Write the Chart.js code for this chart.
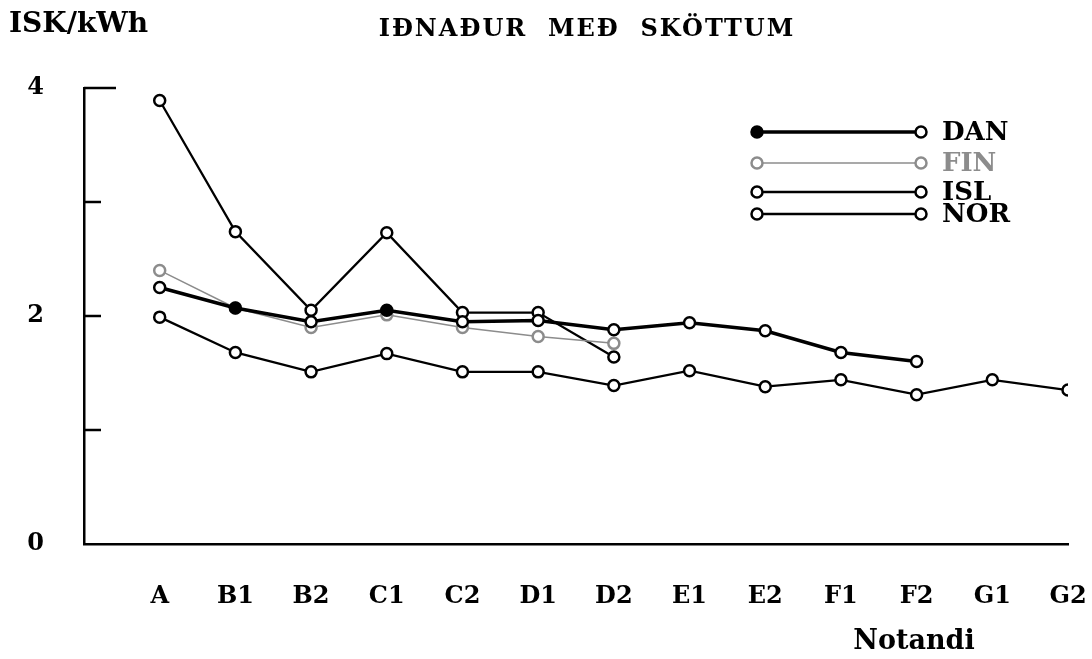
<!DOCTYPE html>
<html>
<head>
<meta charset="utf-8">
<script src="https://cdn.jsdelivr.net/npm/chart.js@4"></script>
<style>
  html, body { margin: 0; padding: 0; background: #fff; }
  #wrap { width: 1092px; height: 659px; }
</style>
</head>
<body>
<div id="wrap"><canvas id="chart"></canvas></div>
<script>
(function() {
    'use strict';

    var categories = ['A', 'B1', 'B2', 'C1', 'C2', 'D1', 'D2', 'E1', 'E2', 'F1', 'F2', 'G1', 'G2'];
    var seriesNames = ['DAN', 'FIN', 'ISL', 'NOR'];
    var danValues = [2.25, 2.07, 1.95, 2.05, 1.95, 1.96, 1.88, 1.94, 1.87, 1.68, 1.60];
    var finValues = [2.40, 2.07, 1.90, 2.01, 1.90, 1.82, 1.76];
    var islValues = [3.89, 2.74, 2.05, 2.73, 2.03, 2.03, 1.64];
    var norValues = [1.99, 1.68, 1.51, 1.67, 1.51, 1.51, 1.39, 1.52, 1.38, 1.44, 1.31, 1.44, 1.35];
    var yTicks = [0, 1, 2, 3, 4];
    var yLabelled = [0, 2, 4];

    var FONT = '"DejaVu Serif", serif';

    function toPoints(values) {
        return values.map(function(v, i) { return { x: i, y: v }; });
    }

    // DAN has filled markers at B1 and C1
    var danFill = danValues.map(function(v, i) { return (i === 1 || i === 3) ? '#000' : '#fff'; });

    var styles = [
        { color: '#000', width: 3.5, fill: danFill, legendFill: ['#000', '#fff'] },
        { color: '#8c8c8c', width: 1.5, fill: '#fff', legendFill: ['#fff', '#fff'] },
        { color: '#000', width: 2.3, fill: '#fff', legendFill: ['#fff', '#fff'] },
        { color: '#000', width: 2.3, fill: '#fff', legendFill: ['#fff', '#fff'] }
    ];
    var allValues = [danValues, finValues, islValues, norValues];

    var datasets = allValues.map(function(vals, i) {
        return {
            label: seriesNames[i],
            data: toPoints(vals),
            borderColor: styles[i].color,
            borderWidth: styles[i].width,
            pointRadius: 5.5,
            pointBorderWidth: 2.5,
            pointBorderColor: styles[i].color,
            pointBackgroundColor: styles[i].fill,
            tension: 0,
            fill: false
        };
    });

    var decorations = {
        id: 'decorations',
        afterDraw: function(chart) {
            var ctx = chart.ctx;
            var y = chart.scales.y;
            var area = chart.chartArea;
            ctx.save();
            // inward ticks on the y axis
            ctx.strokeStyle = '#000';
            ctx.lineWidth = 2.5;
            yTicks.forEach(function(t) {
                if (t === 0) return;
                var py = y.getPixelForValue(t);
                var len = (t === 4) ? 32 : 17;
                ctx.beginPath();
                ctx.moveTo(area.left, py);
                ctx.lineTo(area.left + len, py);
                ctx.stroke();
            });

            // titles
            ctx.fillStyle = '#000';
            ctx.textBaseline = 'middle';
            ctx.textAlign = 'left';
            ctx.font = 'bold 28px ' + FONT;
            ctx.fillText('ISK/kWh', 9, 25);
            ctx.font = 'bold 24px ' + FONT;
            ctx.letterSpacing = '2px';
            ctx.textAlign = 'center';
            ctx.fillText('IÐNAÐUR  MEÐ  SKÖTTUM', 587, 30);
            ctx.letterSpacing = '0px';
            ctx.font = 'bold 27px ' + FONT;
            ctx.fillText('Notandi', 914, 642);

            // legend
            var rows = [132, 163, 192, 214];
            var x0 = 757, x1 = 921;
            ctx.font = 'bold 26px ' + FONT;
            chart.data.datasets.forEach(function(ds, i) {
                var ry = rows[i];
                ctx.strokeStyle = styles[i].color;
                ctx.lineWidth = styles[i].width;
                ctx.beginPath();
                ctx.moveTo(x0, ry);
                ctx.lineTo(x1, ry);
                ctx.stroke();
                [x0, x1].forEach(function(px, k) {
                    ctx.beginPath();
                    ctx.arc(px, ry, 5.5, 0, Math.PI * 2);
                    ctx.fillStyle = styles[i].legendFill[k];
                    ctx.fill();
                    ctx.lineWidth = 2.5;
                    ctx.stroke();
                });
                ctx.fillStyle = styles[i].color;
                ctx.textAlign = 'left';
                ctx.fillText(ds.label, 942, ry + 1);
            });
            ctx.restore();
        }
    };

    var ctx = document.getElementById('chart').getContext('2d');
    new Chart(ctx, {
        type: 'line',
        data: { datasets: datasets },
        options: {
            responsive: true,
            maintainAspectRatio: false,
            animation: false,
            layout: { padding: { top: 88, right: 24, left: 0, bottom: 0 } },
            plugins: {
                legend: { display: false },
                tooltip: { enabled: false }
            },
            scales: {
                x: {
                    type: 'linear',
                    min: -1,
                    max: 12,
                    afterFit: function(scale) {
                        scale.height = 115;
                        scale.paddingLeft = 0;
                        scale.paddingRight = 0;
                    },
                    grid: { display: false, drawTicks: false },
                    border: { display: true, color: '#000', width: 2.5 },
                    ticks: {
                        stepSize: 1,
                        autoSkip: false,
                        maxRotation: 0,
                        padding: 38,
                        color: '#000',
                        font: { family: FONT, size: 24, weight: 'bold' },
                        callback: function(value) {
                            return categories[value] || '';
                        }
                    }
                },
                y: {
                    min: 0,
                    max: 4,
                    afterFit: function(scale) {
                        scale.width = 84;
                        scale.paddingTop = 0;
                        scale.paddingBottom = 0;
                    },
                    grid: { display: false, drawTicks: false },
                    border: { display: true, color: '#000', width: 2.5 },
                    ticks: {
                        stepSize: 1,
                        padding: 40,
                        color: '#000',
                        font: { family: FONT, size: 24, weight: 'bold' },
                        callback: function(value) {
                            return yLabelled.indexOf(value) >= 0 ? value : '';
                        }
                    }
                }
            }
        },
        plugins: [decorations]
    });
})();
</script>
</body>
</html>
